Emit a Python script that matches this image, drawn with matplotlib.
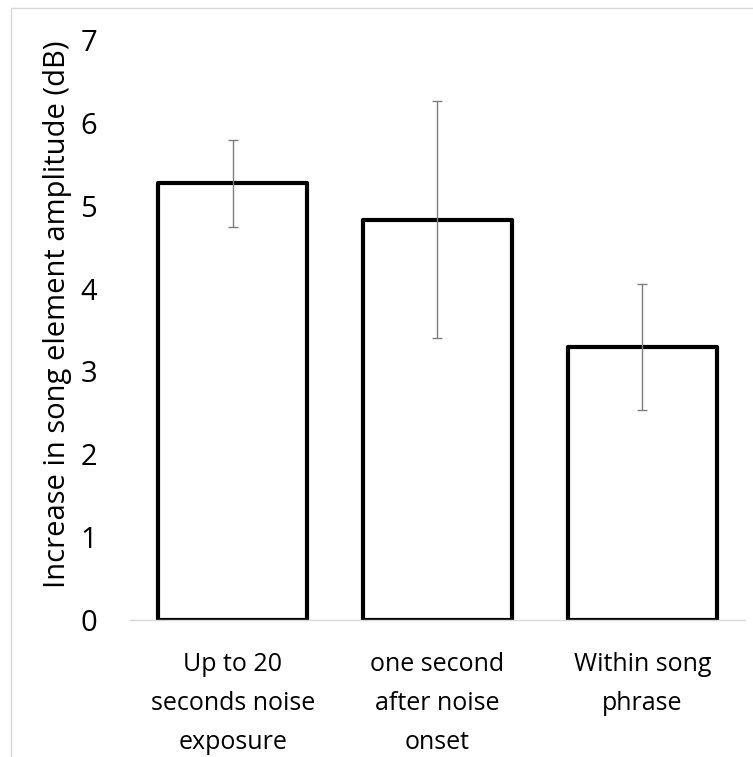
import matplotlib
matplotlib.use("Agg")
import matplotlib.pyplot as plt
from matplotlib.patches import Rectangle

categories = ["Up to 20\nseconds noise\nexposure", "one second\nafter noise\nonset", "Within song\nphrase"]
means = [5.27, 4.83, 3.29]
errors = [0.52, 1.43, 0.76]
yticks = [0, 1, 2, 3, 4, 5, 6, 7]

plt.rcParams["font.family"] = ["Open Sans", "DejaVu Sans"]

fig = plt.figure(figsize=(7.53, 7.57), dpi=100)
ax = fig.add_axes([0.173, 0.181, 0.816, 0.766])

x = range(len(categories))
ax.bar(x, means, width=0.73, color="white", edgecolor="black", linewidth=3,
       joinstyle="round", zorder=2)
ax.errorbar(x, means, yerr=errors, fmt="none", ecolor="#7f7f7f", elinewidth=1,
            capsize=3.5, capthick=1, zorder=3)

ax.set_xlim(-0.5, len(categories) - 0.5)
ax.set_ylim(0, 7)
ax.set_yticks(yticks)
ax.set_yticklabels([str(t) for t in yticks], fontsize=21)
ax.set_xticks(list(x))
ax.set_xticklabels(categories, fontsize=18, linespacing=1.75)
ax.tick_params(axis="y", length=0, pad=24)
ax.tick_params(axis="x", length=0, pad=23)

for s in ("top", "right", "left"):
    ax.spines[s].set_visible(False)
ax.spines["bottom"].set_color("#d9d9d9")
ax.spines["bottom"].set_linewidth(1)

ax.set_ylabel("Increase in song element amplitude (dB)", fontsize=21)
ax.yaxis.set_label_coords(-0.095, 0.528)

# light frame around the chart area
fig.patches.append(Rectangle((11 / 753, -0.05), 1.1, 1 - 8 / 757 + 0.05,
                             transform=fig.transFigure, fill=False,
                             edgecolor="#d9d9d9", linewidth=1))

fig.savefig("out.png", dpi=100)
